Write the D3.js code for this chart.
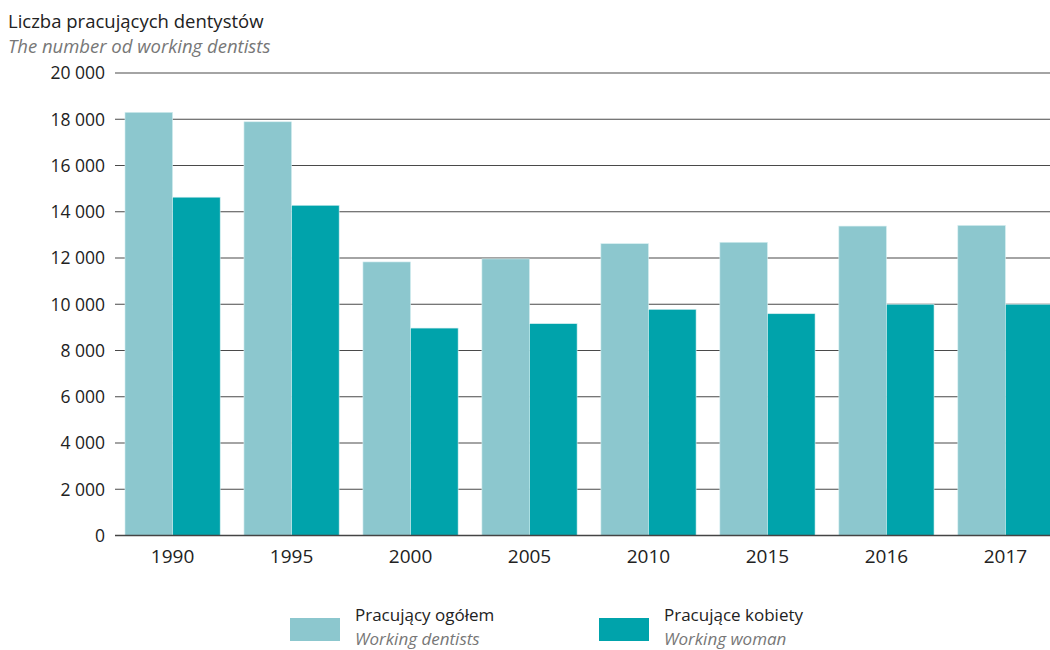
<!DOCTYPE html>
<html><head><meta charset="utf-8">
<script src="https://cdn.jsdelivr.net/npm/d3@7"></script>
<style>body{margin:0;background:#fff;} svg{display:block;font-family:"Open Sans",sans-serif;}</style>
</head><body>
<svg id="c" width="1050" height="650"></svg>
<script>
const years = ["1990","1995","2000","2005","2010","2015","2016","2017"];
const totalDentists = [18300,17890,11830,11960,12620,12680,13380,13410];
const womenDentists = [14630,14280,8970,9160,9780,9590,10000,10000];
const yTicks = [0,2000,4000,6000,8000,10000,12000,14000,16000,18000,20000];
const seriesNames = [["Pracujący ogółem","Working dentists"],["Pracujące kobiety","Working woman"]];
const colors = ["#8cc7ce","#00a3ab"];

const svg = d3.select("#c");
const x = d3.scaleBand().domain(years).range([115,1063]).paddingInner(0.2).paddingOuter(0.084);
const sub = d3.scaleBand().domain([0,1]).range([0,x.bandwidth()]);
const y = d3.scaleLinear().domain([0,20000]).range([535.5,73]);
const fmt = v => d3.format(",")(v).replace(/,/g," ");

// grid
svg.append("g").selectAll("line").data(yTicks.filter(d=>d>0)).join("line")
  .attr("x1",115).attr("x2",1050).attr("y1",d=>y(d)).attr("y2",d=>y(d))
  .attr("stroke","#4a4a4a").attr("stroke-width",1.2);
// y labels
svg.append("g").selectAll("text").data(yTicks).join("text")
  .attr("x",105).attr("y",d=>y(d)).attr("dy","0.36em").attr("text-anchor","end")
  .attr("font-size",17.5).attr("fill","#222").text(fmt);

// bars
const g = svg.append("g").selectAll("g").data(years).join("g")
  .attr("transform",d=>`translate(${x(d)},0)`);
[totalDentists,womenDentists].forEach((arr,i)=>{
  g.append("rect").attr("x",sub(i)).attr("width",sub.bandwidth())
    .attr("y",(d,j)=>y(arr[j])).attr("height",(d,j)=>y(0)-y(arr[j]))
    .attr("fill",colors[i]).attr("stroke","#d6eef0").attr("stroke-width",0.6);
});
// baseline
svg.append("line").attr("x1",115).attr("x2",1050).attr("y1",y(0)).attr("y2",y(0))
  .attr("stroke","#444").attr("stroke-width",1.6);
// x labels
svg.append("g").selectAll("text").data(years).join("text")
  .attr("x",d=>x(d)+x.bandwidth()/2).attr("y",563).attr("text-anchor","middle")
  .attr("font-size",19).attr("fill","#222").text(d=>d);

// title
svg.append("text").attr("x",8).attr("y",28).attr("font-size",18.5).attr("fill","#222").text("Liczba pracujących dentystów");
svg.append("text").attr("x",8).attr("y",53).attr("font-size",18.5).attr("font-style","italic").attr("fill","#777").text("The number od working dentists");

// legend
const lx = [290,599];
seriesNames.forEach((n,i)=>{
  svg.append("rect").attr("x",lx[i]).attr("y",618).attr("width",50).attr("height",23).attr("fill",colors[i]);
  svg.append("text").attr("x",lx[i]+65).attr("y",621).attr("font-size",17).attr("fill","#222").text(n[0]);
  svg.append("text").attr("x",lx[i]+65).attr("y",645).attr("font-size",17).attr("font-style","italic").attr("fill","#777").text(n[1]);
});
</script>
</body></html>
